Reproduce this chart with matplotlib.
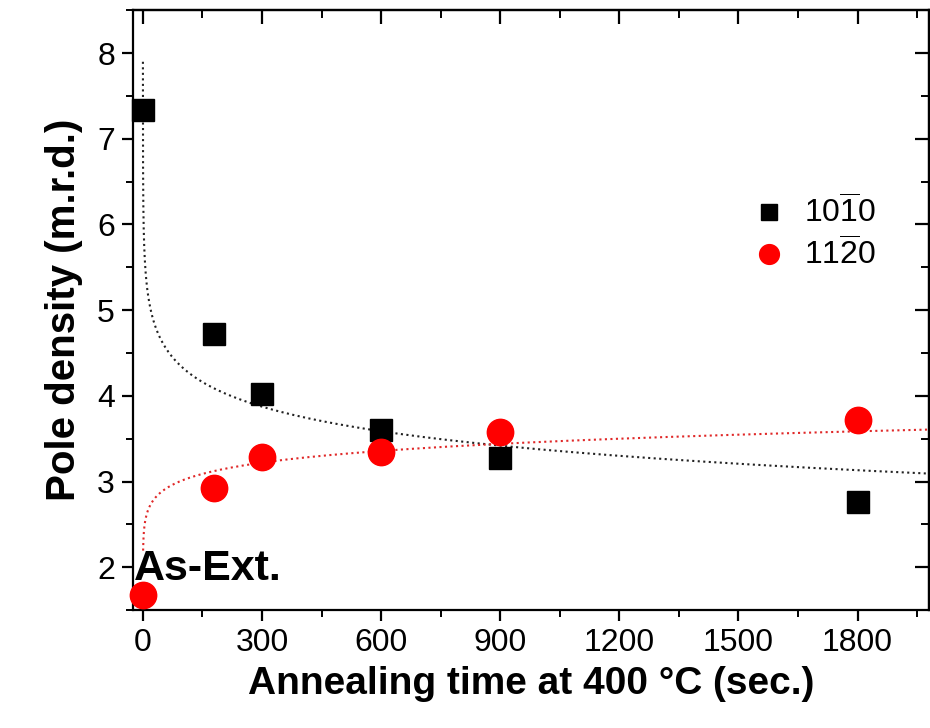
import numpy as np
import matplotlib
matplotlib.use("Agg")
import matplotlib.pyplot as plt
from matplotlib.ticker import MultipleLocator

plt.rcParams['font.family'] = ['Liberation Sans', 'DejaVu Sans']
plt.rcParams['mathtext.fontset'] = 'custom'
plt.rcParams['mathtext.rm'] = 'Liberation Sans'
plt.rcParams['mathtext.it'] = 'Liberation Sans'

# data
time_s = [0, 180, 300, 600, 900, 1800]
pole_1010 = [7.33, 4.72, 4.02, 3.60, 3.28, 2.76]
pole_1120 = [1.68, 2.93, 3.29, 3.34, 3.58, 3.72]
labels = [r'$10\overline{1}0$', r'$11\overline{2}0$']

# fit parameters
fit_1010_log = [6.235, 0.414]      # y = A - B ln t
fit_1120_pow = [2.287, 0.06]       # y = a t^b

fig = plt.figure(figsize=(9.30, 7.28), dpi=100)
ax = fig.add_axes([0.143, 0.162, 0.856, 0.824])

t1 = np.logspace(np.log10(0.018), np.log10(2000), 400)
ax.plot(t1, fit_1010_log[0] - fit_1010_log[1] * np.log(t1), ':', color='#222222', lw=1.5, zorder=2)
t2 = np.logspace(np.log10(0.5), np.log10(2000), 400)
ax.plot(t2, fit_1120_pow[0] * t2 ** fit_1120_pow[1], ':', color='#e02828', lw=1.5, zorder=2)

ax.plot(time_s, pole_1010, 's', color='black', ms=16, label=labels[0], zorder=3, clip_on=False)
ax.plot(time_s, pole_1120, 'o', color='red', ms=19, label=labels[1], zorder=4, clip_on=False)

ax.set_xlim(-25, 1980)
ax.set_ylim(1.5, 8.5)
ax.xaxis.set_major_locator(MultipleLocator(300))
ax.xaxis.set_minor_locator(MultipleLocator(150))
ax.yaxis.set_major_locator(MultipleLocator(1))
ax.yaxis.set_minor_locator(MultipleLocator(0.5))

for s in ax.spines.values():
    s.set_linewidth(1.6)

ax.tick_params(axis='both', which='major', labelsize=23, width=1.6, length=8, direction='out', pad=5)
ax.tick_params(axis='both', which='minor', width=1.4, length=5, direction='out')
ax.tick_params(top=False, right=False)
secx = ax.secondary_xaxis('top')
secx.xaxis.set_major_locator(MultipleLocator(300))
secx.xaxis.set_minor_locator(MultipleLocator(150))
secx.tick_params(which='major', direction='in', length=10, width=1.6, labeltop=False)
secx.tick_params(which='minor', direction='in', length=6, width=1.4)
secx.set_xticklabels([])
secy = ax.secondary_yaxis('right')
secy.yaxis.set_major_locator(MultipleLocator(1))
secy.yaxis.set_minor_locator(MultipleLocator(0.5))
secy.tick_params(which='major', direction='in', length=10, width=1.6, labelright=False)
secy.tick_params(which='minor', direction='in', length=6, width=1.4)
secy.set_yticklabels([])
for sec in (secx, secy):
    for s in sec.spines.values():
        s.set_linewidth(1.6)

ax.set_xlabel('Annealing time at 400 °C (sec.)', fontsize=28, fontweight='bold', labelpad=6)
ax.set_ylabel('Pole density (m.r.d.)', fontsize=29, fontweight='bold', labelpad=10)

ax.text(-22, 1.98, 'As-Ext.', fontsize=31, fontweight='bold', ha='left', va='center', zorder=5)

leg = ax.legend(loc='center left', bbox_to_anchor=(0.743, 0.627), frameon=False, fontsize=23,
                handletextpad=0.6, labelspacing=0.25, markerscale=0.75, handlelength=1.0)

fig.savefig('out.png', dpi=100)
